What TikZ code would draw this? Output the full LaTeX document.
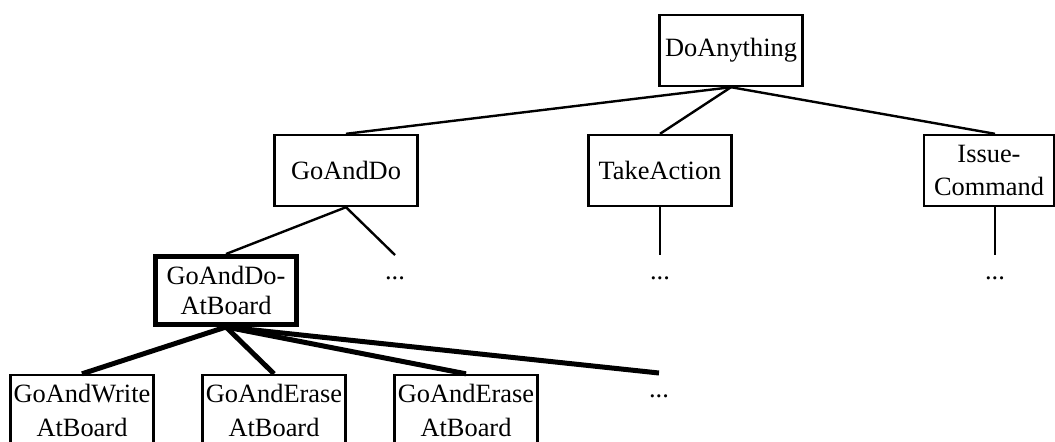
\documentclass[tikz,border=0pt]{standalone}
\usepackage{fontspec}
\setmainfont{Liberation Serif}
\begin{document}
\begin{tikzpicture}[x=0.5pt, y=-0.5pt]
% Styles
\tikzstyle{box} = [rectangle, draw=black, line width=1.2pt, minimum width=71.5pt, minimum height=35.5pt, inner sep=1pt, align=center, font=\fontsize{13.2}{14.6}\selectfont]
\tikzstyle{focus} = [box, line width=2.5pt, minimum width=70.5pt, minimum height=34pt]
\tikzstyle{more} = [anchor=north, inner sep=0pt, text height=12pt, text depth=0pt, font=\fontsize{13.2}{14.6}\selectfont]
\tikzstyle{link} = [line width=1.2pt]
\tikzstyle{boldlink} = [line width=2.5pt]

\useasboundingbox (0,0) rectangle (1055,441);
\clip (0,0) rectangle (1055,441);

% Nodes
\node (do) [box] at (731,50.5) {DoAnything};

\node (goanddo) [box] at (346,170.5) {GoAndDo};
\node (takeaction) [box] at (660,170.5) {TakeAction};
\node (issue) [box, minimum width=65pt] at (989,170.5) {Issue-\\[1.9pt]Command};

\node (atboard) [focus] at (226,290.5) {GoAndDo-\\AtBoard};
\node (dots1) [more] at (395,255) {...};
\node (dots2) [more] at (660,255) {...};
\node (dots3) [more] at (995,255) {...};

\node (write) [box] at (82,410.5) {GoAndWrite\\[2pt]AtBoard};
\node (erase1) [box] at (274,410.5) {GoAndErase\\[2pt]AtBoard};
\node (erase2) [box] at (466,410.5) {GoAndErase\\[2pt]AtBoard};
\node (dots4) [more] at (659,373) {...};

% Lines
\draw [link] (do.south) -- (goanddo.north);
\draw [link] (do.south) -- (takeaction.north);
\draw [link] (do.south) -- (dots3 |- issue.north);
\draw [link] (goanddo.south) -- (atboard.north);
\draw [link] (goanddo.south) -- (dots1.north);
\draw [link] (takeaction.south) -- (dots2.north);
\draw [link] (dots3 |- issue.south) -- (dots3.north);
\draw [boldlink] (atboard.south) -- (write.north);
\draw [boldlink] (atboard.south) -- (erase1.north);
\draw [boldlink] (atboard.south) -- (erase2.north);
\draw [boldlink] (atboard.south) -- (dots4.north);

\end{tikzpicture}
\end{document}
